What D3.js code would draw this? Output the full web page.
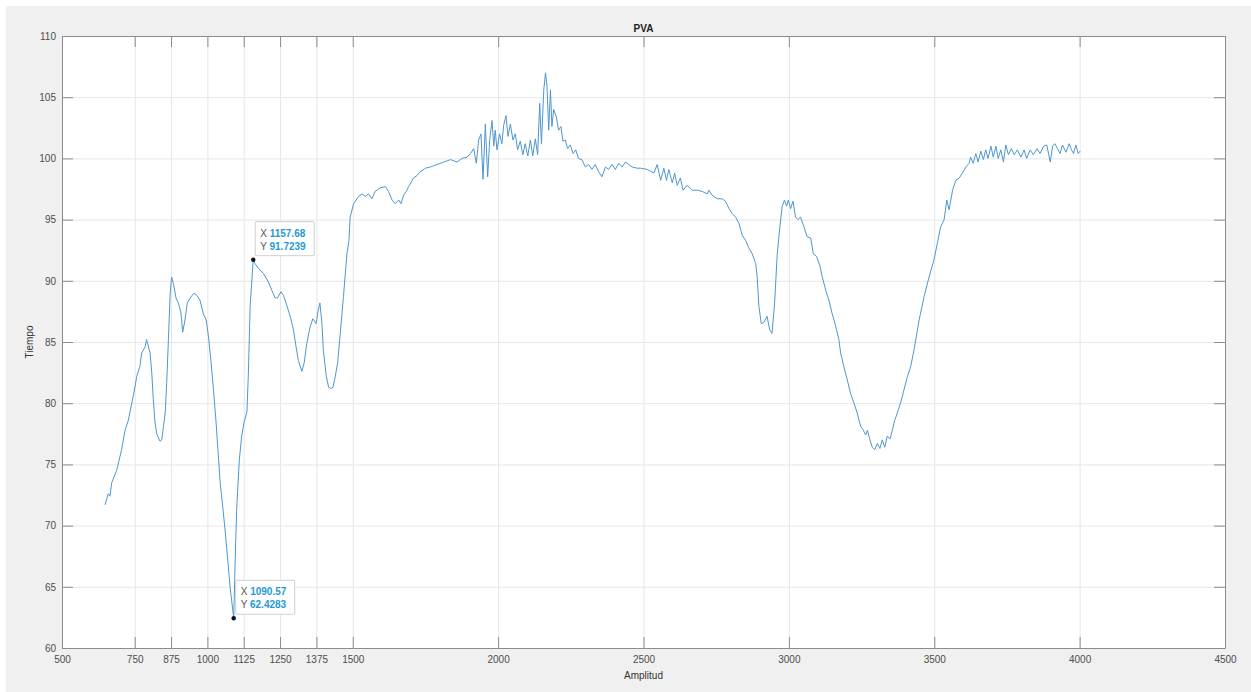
<!DOCTYPE html>
<html lang="en">

<head>
	<meta charset="utf-8">
	<title>PVA</title>
	<style>
        body {
            margin: 0;
            background: #fff;
        }
        text {
            font-family: "Liberation Sans", Arial, Helvetica, sans-serif;
        }
        .axis text {
            font-size: 10px;
            fill: #4d4d4d;
        }
        .axis path, .axis line {
            stroke: #8c8c8c;
        }
        .grid line {
            stroke: #e6e6e6;
        }
        .grid path {
            display: none;
        }
	</style>
	<script type="text/javascript" src="https://d3js.org/d3.v7.min.js"></script>
</head>

<body>
    <svg width="1251" height="692"></svg>

	<script type="text/javascript">
        // x ticks as MATLAB shows them (extra ticks in the fingerprint region)
        const xTicks = [500, 750, 875, 1000, 1125, 1250, 1375, 1500, 2000, 2500, 3000, 3500, 4000, 4500];
        const yTicks = [60, 65, 70, 75, 80, 85, 90, 95, 100, 105, 110];

        // spectrum
        const amplitud = [
            648, 659, 665, 671, 688, 705, 717, 728, 740, 751, 757, 768, 774, 786, 791, 803, 809, 814, 820, 826,
            837, 843, 849, 855, 860, 866, 872, 877, 883, 892, 900, 909, 915, 923, 931, 941, 954, 964, 975, 986,
            996, 1004, 1012, 1021, 1030, 1038, 1044, 1053, 1061, 1069, 1078, 1090.57, 1096, 1101, 1110, 1118, 1126, 1136, 1141, 1147,
            1157.68, 1164, 1176, 1193, 1210, 1222, 1233, 1241, 1253, 1262, 1273, 1285, 1296, 1305, 1313, 1325, 1333, 1342, 1354, 1363,
            1374, 1381, 1387, 1394, 1399, 1409, 1417, 1425, 1432, 1440, 1448, 1457, 1468, 1480, 1487, 1491, 1503, 1520, 1532, 1543,
            1554, 1566, 1577, 1595, 1612, 1623, 1635, 1646, 1658, 1666, 1675, 1684, 1692, 1700, 1709, 1721, 1732, 1750, 1767, 1790,
            1813, 1836, 1859, 1876, 1893, 1905, 1916, 1925, 1933, 1941, 1948, 1956, 1964, 1971, 1979, 1985, 1990, 1996, 2005, 2013,
            2019, 2027, 2034, 2042, 2051, 2059, 2067, 2076, 2085, 2093, 2102, 2111, 2119, 2128, 2136, 2143, 2149, 2157, 2163, 2168,
            2174, 2180, 2185, 2191, 2200, 2208, 2216, 2223, 2231, 2239, 2248, 2258, 2267, 2276, 2288, 2300, 2311, 2323, 2334, 2346,
            2357, 2369, 2380, 2392, 2403, 2415, 2426, 2438, 2449, 2461, 2478, 2490, 2513, 2536, 2547, 2559, 2570, 2579, 2587, 2599,
            2607, 2616, 2627, 2636, 2650, 2667, 2685, 2702, 2719, 2725, 2736, 2754, 2771, 2782, 2794, 2805, 2817, 2828, 2840, 2851,
            2862, 2874, 2886, 2891, 2897, 2905, 2914, 2925, 2934, 2942, 2951, 2960, 2969, 2977, 2985, 2992, 2998, 3006, 3014, 3023,
            3031, 3040, 3052, 3063, 3075, 3084, 3095, 3107, 3115, 3127, 3138, 3149, 3161, 3172, 3178, 3189, 3201, 3212, 3224, 3235,
            3247, 3256, 3264, 3270, 3279, 3287, 3295, 3304, 3313, 3321, 3330, 3338, 3348, 3356, 3364, 3373, 3385, 3396, 3408, 3419,
            3430, 3448, 3465, 3482, 3499, 3511, 3522, 3534, 3543, 3551, 3563, 3574, 3586, 3597, 3609, 3620, 3625, 3634, 3643, 3651,
            3660, 3669, 3677, 3685, 3695, 3703, 3712, 3720, 3729, 3738, 3746, 3755, 3765, 3775, 3786, 3798, 3809, 3818, 3830, 3841,
            3853, 3864, 3876, 3887, 3899, 3907, 3915, 3924, 3933, 3941, 3953, 3964, 3972, 3979, 3987, 3995, 4002
        ];
        const tiempo = [
            71.7, 72.6, 72.4, 73.5, 74.5, 76.2, 77.8, 78.6, 80.0, 81.3, 82.2, 83.0, 84.1, 84.6, 85.2, 84.1, 82.4, 80.3, 78.4, 77.5,
            76.9, 77.0, 78.1, 79.2, 81.6, 85.2, 89.0, 90.3, 89.8, 88.6, 88.2, 87.4, 85.8, 86.8, 88.2, 88.6, 89.0, 88.8, 88.4, 87.3,
            86.8, 85.4, 83.5, 81.1, 78.4, 75.6, 73.5, 71.5, 69.6, 67.5, 65.0, 62.4283, 67.5, 71.5, 75.4, 77.3, 78.4, 79.3, 82.4, 87.9,
            91.7239, 91.4, 91.0, 90.6, 89.9, 89.2, 88.6, 88.6, 89.1, 88.8, 88.0, 87.1, 86.0, 84.6, 83.5, 82.6, 83.3, 84.9, 86.3, 86.9,
            86.5, 87.6, 88.2, 86.5, 84.3, 82.2, 81.3, 81.2, 81.3, 82.2, 83.3, 85.7, 88.7, 92.2, 93.3, 95.2, 96.3, 96.9, 97.1, 96.9,
            97.1, 96.7, 97.3, 97.6, 97.7, 97.3, 96.6, 96.3, 96.6, 96.3, 97.0, 97.3, 97.7, 98.0, 98.4, 98.6, 98.9, 99.2, 99.3, 99.5,
            99.7, 99.9, 99.7, 100.0, 100.1, 100.4, 100.8, 99.6, 101.5, 102.0, 98.3, 102.8, 98.5, 101.5, 103.1, 101.0, 102.3, 100.7, 102.0, 101.2,
            102.7, 103.5, 101.8, 102.8, 101.5, 102.0, 100.7, 101.4, 100.3, 101.2, 100.2, 101.5, 100.2, 101.6, 100.3, 104.5, 101.2, 105.6, 107.0, 105.9,
            102.3, 105.6, 102.6, 104.0, 103.4, 102.3, 102.6, 101.4, 101.5, 100.8, 101.1, 100.4, 100.7, 100.0, 99.9, 99.3, 99.5, 99.1, 99.5, 98.9,
            98.5, 99.3, 99.1, 99.5, 99.1, 99.6, 99.3, 99.7, 99.5, 99.3, 99.2, 99.2, 99.1, 98.8, 99.5, 98.2, 99.2, 98.2, 99.1, 98.0,
            98.8, 97.8, 98.4, 97.4, 97.8, 97.4, 97.4, 97.3, 97.1, 97.4, 97.0, 96.7, 96.7, 96.5, 95.9, 95.5, 95.2, 94.7, 93.7, 93.3,
            92.7, 92.2, 91.4, 90.3, 87.9, 86.5, 86.6, 87.1, 86.0, 85.7, 88.2, 92.2, 94.4, 96.1, 96.6, 96.1, 96.6, 95.9, 96.5, 95.2,
            95.0, 95.2, 94.4, 93.6, 93.5, 92.2, 92.0, 91.2, 90.3, 89.2, 88.4, 87.3, 86.3, 85.2, 84.1, 83.0, 81.9, 80.8, 80.0, 79.2,
            78.1, 77.8, 77.4, 77.8, 77.0, 76.4, 76.2, 76.7, 76.3, 77.0, 76.4, 77.3, 77.1, 77.8, 78.6, 79.2, 80.1, 81.1, 82.2, 83.0,
            84.3, 86.8, 88.7, 90.3, 91.7, 93.1, 94.4, 95.0, 96.6, 95.8, 97.4, 98.2, 98.4, 98.8, 99.3, 99.6, 100.1, 99.6, 100.4, 99.7,
            100.6, 99.9, 100.7, 100.0, 101.0, 100.1, 101.0, 100.0, 100.7, 99.7, 101.1, 100.3, 100.8, 100.3, 100.7, 100.1, 100.7, 100.0, 100.7, 100.3,
            100.8, 100.4, 101.0, 101.1, 99.7, 101.0, 101.2, 100.8, 100.4, 101.1, 100.5, 101.2, 100.7, 100.4, 101.1, 100.4, 100.6
        ];

        // data tips shown on the figure
        const tipX = [1090.57, 1157.68];
        const tipY = [62.4283, 91.7239];

        let svg = d3.select("svg"),
            margin = {top: 36, right: 26, bottom: 44, left: 62},
            width = +svg.attr("width") - margin.left - margin.right,
            height = +svg.attr("height") - margin.top - margin.bottom;

        // figure background
        svg.append("rect")
            .attr("x", 6).attr("y", 6)
            .attr("width", 1251 - 6).attr("height", 692 - 6)
            .attr("fill", "#f0f0f0");

        let g = svg.append("g").attr("transform", "translate(" + margin.left + "," + margin.top + ")");

        let x = d3.scaleLinear().domain([500, 4500]).range([0, width]),
            y = d3.scaleLinear().domain([60, 110]).range([height, 0]);

        g.append("rect")
            .attr("width", width).attr("height", height)
            .attr("fill", "#fff");

        // grid
        g.append("g").attr("class", "grid")
            .attr("transform", "translate(0," + height + ")")
            .call(d3.axisBottom(x).tickValues(xTicks).tickSize(-height).tickFormat(""));
        g.append("g").attr("class", "grid")
            .call(d3.axisLeft(y).tickValues(yTicks).tickSize(-width).tickFormat(""));

        // spectrum line
        let points = amplitud.map((d, i) => [d, tiempo[i]]);
        let line = d3.line().x(d => x(d[0])).y(d => y(d[1]));
        g.append("path")
            .datum(points)
            .attr("fill", "none")
            .attr("stroke", "#4f96cf")
            .attr("stroke-width", 1)
            .attr("d", line);

        // axes, MATLAB box with ticks pointing inward
        g.append("g").attr("class", "axis")
            .attr("transform", "translate(0," + height + ")")
            .call(d3.axisBottom(x).tickValues(xTicks).tickSizeInner(-11).tickSizeOuter(0).tickPadding(8).tickFormat(d3.format("d")));
        g.append("g").attr("class", "axis")
            .call(d3.axisTop(x).tickValues(xTicks).tickSizeInner(-11).tickSizeOuter(0).tickFormat(""));
        g.append("g").attr("class", "axis")
            .call(d3.axisLeft(y).tickValues(yTicks).tickSizeInner(-11).tickSizeOuter(0).tickPadding(6).tickFormat(d3.format("d")));
        g.append("g").attr("class", "axis")
            .attr("transform", "translate(" + width + ",0)")
            .call(d3.axisRight(y).tickValues(yTicks).tickSizeInner(-11).tickSizeOuter(0).tickFormat(""));

        // labels
        g.append("text")
            .attr("x", width / 2).attr("y", -4)
            .attr("text-anchor", "middle")
            .style("font-size", "10px").style("font-weight", "bold").style("fill", "#222")
            .text("PVA");
        g.append("text")
            .attr("x", width / 2).attr("y", height + 31)
            .attr("text-anchor", "middle")
            .style("font-size", "10px").style("fill", "#333")
            .text("Amplitud");
        g.append("text")
            .attr("transform", "translate(-29," + (height / 2) + ") rotate(-90)")
            .attr("text-anchor", "middle")
            .style("font-size", "10px").style("fill", "#333")
            .text("Tiempo");

        // data tips
        let tips = tipX.map((d, i) => ({x: d, y: tipY[i]}));
        let tip = g.selectAll(".tip").data(tips).enter().append("g")
            .attr("class", "tip")
            .attr("transform", d => "translate(" + x(d.x) + "," + y(d.y) + ")");
        tip.append("rect")
            .attr("x", 2).attr("y", -38)
            .attr("width", 59).attr("height", 34)
            .attr("rx", 1)
            .attr("fill", "#fff")
            .attr("stroke", "#cfcfcf");
        tip.append("circle")
            .attr("r", 2.2)
            .attr("fill", "#111");
        let rows = [["X", d => d3.format(".2f")(d.x)], ["Y", d => d3.format(".4f")(d.y)]];
        rows.forEach((r, i) => {
            let t = tip.append("text")
                .attr("x", 7).attr("y", -23 + i * 13)
                .style("font-size", "10px");
            t.append("tspan").style("fill", "#555").text(r[0] + " ");
            t.append("tspan").style("fill", "#1f9ad6").style("font-weight", "bold").text(r[1]);
        });
    </script>
</body>

</html>
